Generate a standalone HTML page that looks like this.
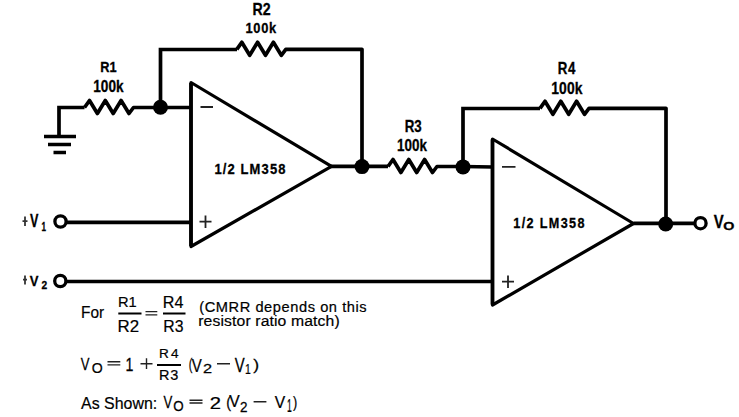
<!DOCTYPE html>
<html><head><meta charset="utf-8">
<style>
html,body{margin:0;padding:0;background:#fff;width:739px;height:417px;overflow:hidden}
svg{position:absolute;left:0;top:0;display:block}
text{font-family:"Liberation Sans",sans-serif;fill:#000}
</style></head><body>
<svg width="739" height="417" viewBox="0 0 739 417">
<rect width="739" height="417" fill="#fff"/>
<g>
<g fill="none" stroke="#000" stroke-width="3.7" stroke-linejoin="miter">
  <path d="M59,136.5 V107.5 H84.5"/>
  <path d="M44,136.5 H76 M48,144.5 H71 M53.5,152.5 H66"/>
  <path stroke-linejoin="round" d="M84.5,107.5 L89.5,100.5 L97.4,113.5 L105.3,100.5 L113.2,113.5 L121.1,100.5 L129.0,113.5 L133.5,107.5 H191"/>
  <path d="M160.5,107.5 V49.5 H237"/>
  <path stroke-linejoin="round" d="M236.8,49.3 L241.8,42.3 L249.7,55.3 L257.6,42.3 L265.5,55.3 L273.4,42.3 L281.3,55.3 L285.8,49.3 H362 V166.5"/>
  <path stroke-linejoin="round" stroke-width="3.2" d="M191,82.5 L331.5,166.3 L191,246.5 Z"/><path d="M191,83 V246"/>
  <path d="M330,166.3 H388"/>
  <path stroke-linejoin="round" d="M388.0,166.5 L393.0,159.5 L400.9,172.5 L408.8,159.5 L416.7,172.5 L424.6,159.5 L432.5,172.5 L437.0,166.5 H463 L492.5,167"/>
  <path d="M463,166.7 V108.5 H540"/>
  <path stroke-linejoin="round" d="M540.0,108.3 L545.0,101.3 L552.9,114.3 L560.8,101.3 L568.7,114.3 L576.6,101.3 L584.5,114.3 L589.0,108.3 H666 V224"/>
  <path stroke-linejoin="round" stroke-width="3.2" d="M492.5,139 L633.5,223.5 L492.5,305 Z"/><path d="M492.5,139.5 V304.5"/>
  <path d="M633.5,223.3 H694"/>
  <circle cx="700.5" cy="223.2" r="5.6" stroke-width="3.3"/>
  <circle cx="60.5" cy="221.5" r="5.6" stroke-width="3.3"/>
  <path d="M65.7,222.3 H191"/>
  <circle cx="60.3" cy="281" r="5.6" stroke-width="3.3"/>
  <path d="M65.5,281.5 H492.5"/>
  <path stroke-width="1.8" stroke="#222" d="M200.5,107 H213 M502,166.8 H515.5"/>
  <path stroke-width="1.8" stroke="#222" d="M199.5,221.6 H211.5 M205.5,215.5 V228 M502,281.6 H514 M508,275.5 V288"/>
  <path stroke-width="1.8" stroke="#333" d="M22.5,221.1 H27.5 M25,216.5 V226 M23,279.7 H27 M25,275.5 V284.5"/>
  <path stroke-width="2" d="M118.3,313.6 H141.5 M163,313.6 H185.5 M157,364.9 H181"/>
  <path stroke-width="1.4" stroke="#222" d="M217,363.7 H230 M253.6,401.8 H266.4 M107.5,361.8 H120.3 M107.5,364.9 H120.3 M145.5,311.6 H157.3 M145.5,314.9 H157.3 M189.5,400.3 H202.5 M189.5,403 H202.5 M140.5,363.7 H152.5 M146.5,358.3 V369"/>
</g>
<g fill="#000">
  <circle cx="160.5" cy="107.3" r="7.5"/>
  <circle cx="362" cy="166.6" r="7.5"/>
  <circle cx="463" cy="166.9" r="7.5"/>
  <circle cx="665.7" cy="224" r="7.5"/>
</g>
<text transform="matrix(0.8490 0 0 1 100.20 71.80)" font-size="15.07" font-weight="bold" stroke="#000" stroke-width="0.3">R1</text>
<text transform="matrix(0.8189 0 0 1 93.28 91.73)" font-size="16.62" font-weight="bold" stroke="#000" stroke-width="0.3">100k</text>
<text transform="matrix(0.8208 0 0 1 252.61 14.70)" font-size="17.29" font-weight="bold" stroke="#000" stroke-width="0.3">R2</text>
<text transform="matrix(0.8500 0 0 1 245.53 33.25)" font-size="15.14" font-weight="bold" stroke="#000" stroke-width="0.3" letter-spacing="0.79">100k</text>
<text transform="matrix(0.8091 0 0 1 404.67 132.44)" font-size="16.48" font-weight="bold" stroke="#000" stroke-width="0.3">R3</text>
<text transform="matrix(0.8420 0 0 1 397.09 150.74)" font-size="15.95" font-weight="bold" stroke="#000" stroke-width="0.3">100k</text>
<text transform="matrix(0.8500 0 0 1 557.87 74.00)" font-size="15.65" font-weight="bold" stroke="#000" stroke-width="0.3" letter-spacing="0.75">R4</text>
<text transform="matrix(0.8500 0 0 1 551.27 94.04)" font-size="16.35" font-weight="bold" stroke="#000" stroke-width="0.3" letter-spacing="0.11">100k</text>
<text transform="matrix(0.8500 0 0 1 214.42 173.55)" font-size="15.27" font-weight="bold" stroke="#000" stroke-width="0.3" letter-spacing="1.33">1/2 LM358</text>
<text transform="matrix(0.8500 0 0 1 513.34 228.05)" font-size="14.86" font-weight="bold" stroke="#000" stroke-width="0.3" letter-spacing="1.59">1/2 LM358</text>
<text transform="matrix(0.7077 0 0 1 29.97 227.40)" font-size="17.83" font-weight="bold" stroke="#000" stroke-width="0.3">V</text>
<text transform="matrix(0.6803 0 0 1 41.51 230.50)" font-size="11.88" font-weight="bold" stroke="#000" stroke-width="0.3">1</text>
<text transform="matrix(0.8433 0 0 1 29.67 286.00)" font-size="15.51" font-weight="bold" stroke="#000" stroke-width="0.3">V</text>
<text transform="matrix(0.9042 0 0 1 41.39 288.50)" font-size="11.29" font-weight="bold" stroke="#000" stroke-width="0.3">2</text>
<text transform="matrix(0.7801 0 0 1 713.65 228.00)" font-size="19.13" font-weight="bold" stroke="#000" stroke-width="0.3">V</text>
<text transform="matrix(1.2369 0 0 1 723.23 230.08)" font-size="11.55" font-weight="bold" stroke="#000" stroke-width="0.3">O</text>
<text transform="matrix(0.8852 0 0 1 81.07 318.43)" font-size="17.43" font-weight="normal" stroke="#000" stroke-width="0.2">For</text>
<text transform="matrix(0.9941 0 0 1 117.92 306.60)" font-size="14.78" font-weight="normal" stroke="#000" stroke-width="0.2">R1</text>
<text transform="matrix(1.0007 0 0 1 117.55 332.00)" font-size="16.86" font-weight="normal" stroke="#000" stroke-width="0.2">R2</text>
<text transform="matrix(0.9986 0 0 1 162.81 307.76)" font-size="16.18" font-weight="normal" stroke="#000" stroke-width="0.2">R4</text>
<text transform="matrix(0.9210 0 0 1 163.33 332.23)" font-size="17.18" font-weight="normal" stroke="#000" stroke-width="0.2">R3</text>
<text transform="matrix(1.0500 0 0 1 199.22 311.67)" font-size="13.94" font-weight="normal" stroke="#000" stroke-width="0.2" letter-spacing="0.54">(CMRR depends on this</text>
<text transform="matrix(1.0500 0 0 1 198.20 325.85)" font-size="15.00" font-weight="normal" stroke="#000" stroke-width="0.2" letter-spacing="0.12">resistor ratio match)</text>
<text transform="matrix(0.7985 0 0 1 80.77 369.50)" font-size="16.38" font-weight="normal" stroke="#000" stroke-width="0.25">V</text>
<text transform="matrix(0.9112 0 0 1 91.69 372.95)" font-size="15.49" font-weight="normal" stroke="#000" stroke-width="0.25">O</text>
<text transform="matrix(0.7769 0 0 1 125.47 371.30)" font-size="18.26" font-weight="normal" stroke="#000" stroke-width="0.25">1</text>
<text transform="matrix(1.0500 0 0 1 159.11 357.93)" font-size="12.94" font-weight="normal" stroke="#000" stroke-width="0.2" letter-spacing="2.00">R4</text>
<text transform="matrix(1.0500 0 0 1 159.04 380.26)" font-size="13.80" font-weight="normal" stroke="#000" stroke-width="0.2" letter-spacing="0.79">R3</text>
<text transform="matrix(0.6367 0 0 1 188.65 370.35)" font-size="16.91" font-weight="normal" stroke="#000" stroke-width="0.25">(</text>
<text transform="matrix(0.7881 0 0 1 191.85 371.50)" font-size="19.13" font-weight="normal" stroke="#000" stroke-width="0.25">V</text>
<text transform="matrix(1.2405 0 0 1 202.88 372.90)" font-size="13.14" font-weight="normal" stroke="#000" stroke-width="0.25">2</text>
<text transform="matrix(0.7516 0 0 1 234.75 371.70)" font-size="19.86" font-weight="normal" stroke="#000" stroke-width="0.25">V</text>
<text transform="matrix(0.6749 0 0 1 244.96 374.10)" font-size="15.51" font-weight="normal" stroke="#000" stroke-width="0.25">1</text>
<text transform="matrix(1.1549 0 0 1 253.32 369.88)" font-size="15.32" font-weight="normal" stroke="#000" stroke-width="0.25">)</text>
<text transform="matrix(0.9149 0 0 1 81.10 408.73)" font-size="17.43" font-weight="normal" stroke="#000" stroke-width="0.2">As Shown:</text>
<text transform="matrix(0.8151 0 0 1 163.47 407.80)" font-size="16.23" font-weight="normal" stroke="#000" stroke-width="0.25">V</text>
<text transform="matrix(0.8880 0 0 1 173.23 411.45)" font-size="15.07" font-weight="normal" stroke="#000" stroke-width="0.25">O</text>
<text transform="matrix(1.1993 0 0 1 209.79 408.50)" font-size="16.86" font-weight="normal" stroke="#000" stroke-width="0.25">2</text>
<text transform="matrix(0.8257 0 0 1 226.15 408.08)" font-size="17.23" font-weight="normal" stroke="#000" stroke-width="0.25">(</text>
<text transform="matrix(0.9843 0 0 1 229.24 406.90)" font-size="15.94" font-weight="normal" stroke="#000" stroke-width="0.25">V</text>
<text transform="matrix(0.9160 0 0 1 240.03 411.50)" font-size="14.71" font-weight="normal" stroke="#000" stroke-width="0.25">2</text>
<text transform="matrix(0.9498 0 0 1 274.64 407.70)" font-size="16.52" font-weight="normal" stroke="#000" stroke-width="0.25">V</text>
<text transform="matrix(0.4867 0 0 1 287.11 411.70)" font-size="17.68" font-weight="normal" stroke="#000" stroke-width="0.25">1</text>
<text transform="matrix(0.7954 0 0 1 292.97 407.95)" font-size="15.96" font-weight="normal" stroke="#000" stroke-width="0.25">)</text>
</g>
</svg>
</body></html>
